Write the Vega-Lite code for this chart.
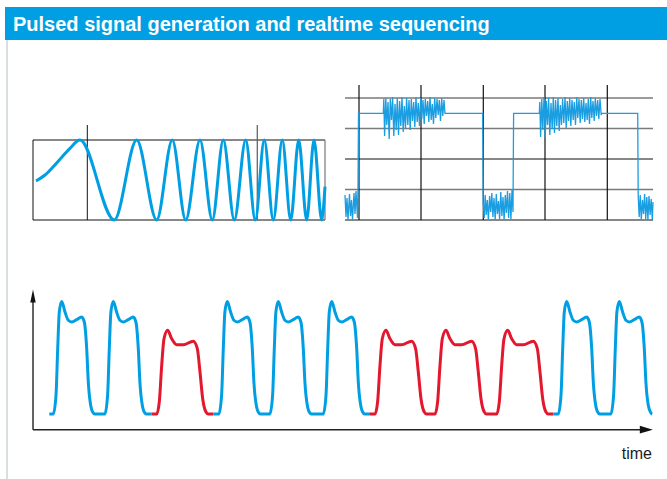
{
  "$schema": "https://vega.github.io/schema/vega-lite/v6.json",
  "padding": {"left": 5, "top": 7, "right": 0, "bottom": 0},
  "background": "white",
  "config": {"view": {"stroke": null}},
  "bounds": "flush",
  "spacing": 0,
  "vconcat": [
    {
      "width": 662,
      "height": 33,
      "view": {"fill": "#009fe3", "stroke": null},
      "data": {"values": [{"label": "Pulsed signal generation and realtime sequencing"}]},
      "mark": {"type": "text", "align": "left", "baseline": "middle", "dx": 8, "dy": 1, "color": "white", "font": "Liberation Sans", "fontSize": 20, "fontWeight": "bold"},
      "encoding": {
        "x": {"datum": 0, "type": "quantitative", "scale": {"domain": [0, 1]}, "axis": null},
        "text": {"field": "label"}
      }
    },
    {
      "hconcat": [
        {
          "width": 3,
          "height": 439,
          "data": {"values": [{}]},
          "mark": {"type": "rule", "color": "#cdd5d5", "strokeWidth": 1.5},
          "encoding": {
            "x": {"datum": 2, "type": "quantitative", "scale": {"domain": [0, 3]}, "axis": null}
          }
        },
        {
          "vconcat": [
            {
              "hconcat": [
                {
                  "width": 292,
                  "height": 180,
                  "layer": [
                    {
                      "data": {"values": [{}]},
                      "mark": {"type": "rule", "color": "#111", "strokeWidth": 1},
                      "encoding": {
                        "x": {"datum": 0, "type": "quantitative", "scale": {"domain": [0, 292], "nice": false, "zero": false}, "axis": null},
                        "x2": {"datum": 292},
                        "y": {"datum": 40, "type": "quantitative", "scale": {"domain": [-40, 140], "nice": false, "zero": false}, "axis": null}
                      }
                    },
                    {
                      "data": {"values": [{}]},
                      "mark": {"type": "rule", "color": "#111", "strokeWidth": 1},
                      "encoding": {
                        "x": {"datum": 0, "type": "quantitative", "scale": {"domain": [0, 292], "nice": false, "zero": false}, "axis": null},
                        "x2": {"datum": 292},
                        "y": {"datum": -40, "type": "quantitative", "scale": {"domain": [-40, 140], "nice": false, "zero": false}, "axis": null}
                      }
                    },
                    {
                      "data": {"values": [{}]},
                      "mark": {"type": "rule", "color": "#111", "strokeWidth": 1},
                      "encoding": {
                        "x": {"datum": 0, "type": "quantitative", "scale": {"domain": [0, 292], "nice": false, "zero": false}, "axis": null},
                        "y": {"datum": -40, "type": "quantitative", "scale": {"domain": [-40, 140], "nice": false, "zero": false}, "axis": null},
                        "y2": {"datum": 40}
                      }
                    },
                    {
                      "data": {"values": [{}]},
                      "mark": {"type": "rule", "color": "#777", "strokeWidth": 1.2},
                      "encoding": {
                        "x": {"datum": 292, "type": "quantitative", "scale": {"domain": [0, 292], "nice": false, "zero": false}, "axis": null},
                        "y": {"datum": -40, "type": "quantitative", "scale": {"domain": [-40, 140], "nice": false, "zero": false}, "axis": null},
                        "y2": {"datum": 40}
                      }
                    },
                    {
                      "data": {"values": [{}]},
                      "mark": {"type": "rule", "color": "#111", "strokeWidth": 1},
                      "encoding": {
                        "x": {"datum": 54.3, "type": "quantitative", "scale": {"domain": [0, 292], "nice": false, "zero": false}, "axis": null},
                        "y": {"datum": -40, "type": "quantitative", "scale": {"domain": [-40, 140], "nice": false, "zero": false}, "axis": null},
                        "y2": {"datum": 55}
                      }
                    },
                    {
                      "data": {"values": [{}]},
                      "mark": {"type": "rule", "color": "#666", "strokeWidth": 1.3},
                      "encoding": {
                        "x": {"datum": 224.3, "type": "quantitative", "scale": {"domain": [0, 292], "nice": false, "zero": false}, "axis": null},
                        "y": {"datum": -40, "type": "quantitative", "scale": {"domain": [-40, 140], "nice": false, "zero": false}, "axis": null},
                        "y2": {"datum": 55}
                      }
                    },
                    {
                      "data": {"values": [
                        {"t": 3, "a": -1}, {"t": 12, "a": 5}, {"t": 20, "a": 13}, {"t": 29, "a": 23}, {"t": 37, "a": 31.7}, {"t": 47, "a": 40},
                        {"t": 81.3, "a": -40}, {"t": 103.7, "a": 40}, {"t": 123.7, "a": -40}, {"t": 139.3, "a": 40},
                        {"t": 152.7, "a": -40}, {"t": 167, "a": 40}, {"t": 179.3, "a": -40}, {"t": 190.3, "a": 40},
                        {"t": 201.3, "a": -40}, {"t": 212.7, "a": 40}, {"t": 222.3, "a": -40}, {"t": 231.3, "a": 40},
                        {"t": 240.3, "a": -40}, {"t": 249.3, "a": 40}, {"t": 257.7, "a": -40}, {"t": 265.7, "a": 40},
                        {"t": 273.7, "a": -40}, {"t": 281, "a": 40}, {"t": 288.7, "a": -40}, {"t": 292, "a": -6.7}
                      ]},
                      "mark": {"type": "line", "interpolate": "monotone", "color": "#009fe3", "strokeWidth": 3},
                      "encoding": {
                        "x": {"field": "t", "type": "quantitative", "scale": {"domain": [0, 292], "nice": false, "zero": false}, "axis": null},
                        "y": {"field": "a", "type": "quantitative", "scale": {"domain": [-40, 140], "nice": false, "zero": false}, "axis": null}
                      }
                    }
                  ]
                },
                {
                  "width": 308,
                  "height": 180,
                  "layer": [
                    {
                      "data": {"values": [{"lvl": 30.5}, {"lvl": 91.5}, {"lvl": 122}]},
                      "mark": {"type": "rule", "color": "#7a7a7a", "strokeWidth": 1.4},
                      "encoding": {
                        "y": {"field": "lvl", "type": "quantitative", "scale": {"domain": [0, 180], "nice": false, "zero": false}, "axis": null}
                      }
                    },
                    {
                      "data": {"values": [{"lvl": 0}, {"lvl": 61}]},
                      "mark": {"type": "rule", "color": "#111", "strokeWidth": 1.2},
                      "encoding": {
                        "y": {"field": "lvl", "type": "quantitative", "scale": {"domain": [0, 180], "nice": false, "zero": false}, "axis": null}
                      }
                    },
                    {
                      "data": {"values": [{"pos": 14}, {"pos": 76}, {"pos": 138.3}, {"pos": 200}, {"pos": 262.3}]},
                      "mark": {"type": "rule", "color": "#111", "strokeWidth": 1.2},
                      "encoding": {
                        "x": {"field": "pos", "type": "quantitative", "scale": {"domain": [0, 308], "nice": false, "zero": false}, "axis": null},
                        "y": {"datum": 0, "type": "quantitative", "scale": {"domain": [0, 180], "nice": false, "zero": false}, "axis": null},
                        "y2": {"datum": 135}
                      }
                    },
                    {
                      "data": {"values": [
                        {"t": 0, "v": 25}, {"t": 1, "v": 3}, {"t": 2, "v": 22}, {"t": 3, "v": 0}, {"t": 4.5, "v": 26}, {"t": 5.5, "v": 4},
                        {"t": 6.5, "v": 20}, {"t": 7.5, "v": 0}, {"t": 9, "v": 27}, {"t": 10, "v": 6}, {"t": 11, "v": 29}, {"t": 12.5, "v": 2},
                        {"t": 13, "v": 30}, {"t": 13.5, "v": 106.7}, {"t": 38.3, "v": 106.7},
                        {"t": 38.8, "v": 121}, {"t": 39.6, "v": 84}, {"t": 40.8, "v": 122}, {"t": 41.8, "v": 95}, {"t": 43, "v": 118},
                        {"t": 44.2, "v": 81}, {"t": 45.3, "v": 121}, {"t": 46.5, "v": 100}, {"t": 47.6, "v": 123}, {"t": 48.8, "v": 84},
                        {"t": 50, "v": 116}, {"t": 51.2, "v": 90}, {"t": 52.3, "v": 122}, {"t": 53.5, "v": 85}, {"t": 54.6, "v": 119},
                        {"t": 55.8, "v": 94}, {"t": 57, "v": 123}, {"t": 58.2, "v": 88}, {"t": 59.3, "v": 114}, {"t": 60.5, "v": 92},
                        {"t": 61.6, "v": 122}, {"t": 62.8, "v": 95}, {"t": 64, "v": 120}, {"t": 65.2, "v": 90}, {"t": 66.3, "v": 121},
                        {"t": 67.5, "v": 99}, {"t": 68.7, "v": 118}, {"t": 69.8, "v": 93}, {"t": 71, "v": 123}, {"t": 72.2, "v": 98},
                        {"t": 73.3, "v": 117}, {"t": 74.5, "v": 94}, {"t": 75.7, "v": 122}, {"t": 76.8, "v": 101}, {"t": 78, "v": 120},
                        {"t": 79.2, "v": 96}, {"t": 80.3, "v": 121}, {"t": 81.5, "v": 104}, {"t": 82.7, "v": 119}, {"t": 83.8, "v": 98},
                        {"t": 85, "v": 123}, {"t": 86.2, "v": 100}, {"t": 87.3, "v": 116}, {"t": 88.5, "v": 96}, {"t": 89.7, "v": 122},
                        {"t": 90.8, "v": 102}, {"t": 92, "v": 121}, {"t": 93.2, "v": 105}, {"t": 94.3, "v": 120}, {"t": 95.5, "v": 99},
                        {"t": 96.7, "v": 122}, {"t": 97.8, "v": 104}, {"t": 99, "v": 120}, {"t": 100, "v": 106.7},
                        {"t": 137.7, "v": 106.7},
                        {"t": 138.2, "v": 18}, {"t": 139.2, "v": 2}, {"t": 140.2, "v": 25}, {"t": 141.2, "v": 5}, {"t": 142.3, "v": 20},
                        {"t": 143.4, "v": 0}, {"t": 144.6, "v": 24}, {"t": 145.7, "v": 8}, {"t": 146.8, "v": 27}, {"t": 147.9, "v": 3},
                        {"t": 149, "v": 22}, {"t": 150.2, "v": 0}, {"t": 151.3, "v": 26}, {"t": 152.4, "v": 6}, {"t": 153.5, "v": 19},
                        {"t": 154.6, "v": 1}, {"t": 155.8, "v": 28}, {"t": 156.9, "v": 4}, {"t": 158, "v": 23}, {"t": 159.1, "v": 0},
                        {"t": 160.3, "v": 25}, {"t": 161.4, "v": 7}, {"t": 162.5, "v": 29}, {"t": 163.6, "v": 2}, {"t": 164.8, "v": 27},
                        {"t": 165.9, "v": 0}, {"t": 167, "v": 30}, {"t": 168, "v": 8}, {"t": 168.6, "v": 106.7},
                        {"t": 194.3, "v": 106.7},
                        {"t": 194.8, "v": 118}, {"t": 195.6, "v": 83}, {"t": 196.8, "v": 121}, {"t": 197.8, "v": 90}, {"t": 199, "v": 123},
                        {"t": 200.2, "v": 82}, {"t": 201.3, "v": 119}, {"t": 202.5, "v": 95}, {"t": 203.6, "v": 122}, {"t": 204.8, "v": 85},
                        {"t": 206, "v": 117}, {"t": 207.2, "v": 91}, {"t": 208.3, "v": 123}, {"t": 209.5, "v": 87}, {"t": 210.6, "v": 120},
                        {"t": 211.8, "v": 94}, {"t": 213, "v": 122}, {"t": 214.2, "v": 89}, {"t": 215.3, "v": 115}, {"t": 216.5, "v": 95},
                        {"t": 217.6, "v": 121}, {"t": 218.8, "v": 97}, {"t": 220, "v": 123}, {"t": 221.2, "v": 92}, {"t": 222.3, "v": 119},
                        {"t": 223.5, "v": 99}, {"t": 224.7, "v": 122}, {"t": 225.8, "v": 94}, {"t": 227, "v": 120}, {"t": 228.2, "v": 100},
                        {"t": 229.3, "v": 118}, {"t": 230.5, "v": 95}, {"t": 231.7, "v": 123}, {"t": 232.8, "v": 102}, {"t": 234, "v": 121},
                        {"t": 235.2, "v": 97}, {"t": 236.3, "v": 120}, {"t": 237.5, "v": 101}, {"t": 238.7, "v": 122}, {"t": 239.8, "v": 98},
                        {"t": 241, "v": 117}, {"t": 242.2, "v": 100}, {"t": 243.3, "v": 121}, {"t": 244.5, "v": 96}, {"t": 245.7, "v": 123},
                        {"t": 246.8, "v": 102}, {"t": 248, "v": 119}, {"t": 249.2, "v": 99}, {"t": 250.3, "v": 122}, {"t": 251.5, "v": 104},
                        {"t": 252.7, "v": 120}, {"t": 253.8, "v": 101}, {"t": 255, "v": 121}, {"t": 256.2, "v": 105}, {"t": 256.7, "v": 106.7},
                        {"t": 292.7, "v": 106.7},
                        {"t": 293.2, "v": 24}, {"t": 294.2, "v": 3}, {"t": 295.2, "v": 25}, {"t": 296.3, "v": 0}, {"t": 297.4, "v": 20},
                        {"t": 298.5, "v": 6}, {"t": 299.6, "v": 26}, {"t": 300.7, "v": 1}, {"t": 301.8, "v": 23}, {"t": 302.9, "v": 0},
                        {"t": 304, "v": 24}, {"t": 305.1, "v": 5}, {"t": 306.2, "v": 21}, {"t": 307.3, "v": 0}, {"t": 308, "v": 18}
                      ]},
                      "mark": {"type": "line", "color": "#1a9de1", "strokeWidth": 1.3},
                      "encoding": {
                        "x": {"field": "t", "type": "quantitative", "scale": {"domain": [0, 308], "nice": false, "zero": false}, "axis": null},
                        "y": {"field": "v", "type": "quantitative", "scale": {"domain": [0, 180], "nice": false, "zero": false}, "axis": null}
                      }
                    }
                  ]
                }
              ],
              "spacing": 20,
              "bounds": "flush"
            },
            {
              "width": 634,
              "height": 255,
              "layer": [
                {
                  "data": {"values": [{}]},
                  "mark": {"type": "rule", "color": "#222", "strokeWidth": 1.4},
                  "encoding": {
                    "x": {"datum": 0, "type": "quantitative", "scale": {"domain": [0, 634], "nice": false, "zero": false}, "axis": null},
                    "y": {"datum": -15.7, "type": "quantitative", "scale": {"domain": [-67, 188], "nice": false, "zero": false}, "axis": null},
                    "y2": {"datum": 112}
                  }
                },
                {
                  "data": {"values": [{}]},
                  "mark": {"type": "rule", "color": "#222", "strokeWidth": 1.4},
                  "encoding": {
                    "x": {"datum": 0, "type": "quantitative", "scale": {"domain": [0, 634], "nice": false, "zero": false}, "axis": null},
                    "x2": {"datum": 608},
                    "y": {"datum": -15.7, "type": "quantitative", "scale": {"domain": [-67, 188], "nice": false, "zero": false}, "axis": null}
                  }
                },
                {
                  "data": {"values": [{}]},
                  "mark": {"type": "point", "shape": "M0,-1L0.42,1L-0.42,1Z", "filled": true, "color": "#111", "opacity": 1, "size": 169},
                  "encoding": {
                    "x": {"datum": 0, "type": "quantitative", "scale": {"domain": [0, 634], "nice": false, "zero": false}, "axis": null},
                    "y": {"datum": 118, "type": "quantitative", "scale": {"domain": [-67, 188], "nice": false, "zero": false}, "axis": null}
                  }
                },
                {
                  "data": {"values": [{}]},
                  "mark": {"type": "point", "shape": "M1,0L-1,-0.6L-1,0.6Z", "filled": true, "color": "#111", "opacity": 1, "size": 169},
                  "encoding": {
                    "x": {"datum": 613.3, "type": "quantitative", "scale": {"domain": [0, 634], "nice": false, "zero": false}, "axis": null},
                    "y": {"datum": -15.7, "type": "quantitative", "scale": {"domain": [-67, 188], "nice": false, "zero": false}, "axis": null}
                  }
                },
                {
                  "data": {"values": [{"label": "time"}]},
                  "mark": {"type": "text", "align": "right", "baseline": "alphabetic", "color": "#1a1a1a", "font": "Liberation Sans", "fontSize": 16},
                  "encoding": {
                    "x": {"datum": 619, "type": "quantitative", "scale": {"domain": [0, 634], "nice": false, "zero": false}, "axis": null},
                    "y": {"datum": -44.7, "type": "quantitative", "scale": {"domain": [-67, 188], "nice": false, "zero": false}, "axis": null},
                    "text": {"field": "label"}
                  }
                },
                {
                  "data": {"values": [
                    {"seg": 1, "col": "blue", "t": 16.3, "v": 0}, {"seg": 1, "col": "blue", "t": 20.3, "v": 0}, {"seg": 1, "col": "blue", "t": 23, "v": 18.7},
                    {"seg": 1, "col": "blue", "t": 24.7, "v": 65.3}, {"seg": 1, "col": "blue", "t": 26.3, "v": 102}, {"seg": 1, "col": "blue", "t": 28.7, "v": 112.5},
                    {"seg": 1, "col": "blue", "t": 32, "v": 102}, {"seg": 1, "col": "blue", "t": 35.3, "v": 93.7}, {"seg": 1, "col": "blue", "t": 38.7, "v": 92},
                    {"seg": 1, "col": "blue", "t": 43.7, "v": 94.3}, {"seg": 1, "col": "blue", "t": 48.7, "v": 97}, {"seg": 1, "col": "blue", "t": 51.3, "v": 92},
                    {"seg": 1, "col": "blue", "t": 53.7, "v": 65.3}, {"seg": 1, "col": "blue", "t": 55.3, "v": 32}, {"seg": 1, "col": "blue", "t": 57.7, "v": 8.7},
                    {"seg": 1, "col": "blue", "t": 60.3, "v": 1}, {"seg": 1, "col": "blue", "t": 62, "v": 0},
                    {"seg": 1, "col": "blue", "t": 67.9, "v": 0}, {"seg": 1, "col": "blue", "t": 71.9, "v": 0}, {"seg": 1, "col": "blue", "t": 74.6, "v": 18.7},
                    {"seg": 1, "col": "blue", "t": 76.3, "v": 65.3}, {"seg": 1, "col": "blue", "t": 77.9, "v": 102}, {"seg": 1, "col": "blue", "t": 80.3, "v": 112.5},
                    {"seg": 1, "col": "blue", "t": 83.6, "v": 102}, {"seg": 1, "col": "blue", "t": 86.9, "v": 93.7}, {"seg": 1, "col": "blue", "t": 90.3, "v": 92},
                    {"seg": 1, "col": "blue", "t": 95.3, "v": 94.3}, {"seg": 1, "col": "blue", "t": 100.3, "v": 97}, {"seg": 1, "col": "blue", "t": 102.9, "v": 92},
                    {"seg": 1, "col": "blue", "t": 105.3, "v": 65.3}, {"seg": 1, "col": "blue", "t": 106.9, "v": 32}, {"seg": 1, "col": "blue", "t": 109.3, "v": 8.7},
                    {"seg": 1, "col": "blue", "t": 111.9, "v": 1}, {"seg": 1, "col": "blue", "t": 113.6, "v": 0}, {"seg": 1, "col": "blue", "t": 118.7, "v": 0},

                    {"seg": 2, "col": "red", "t": 118.7, "v": 0}, {"seg": 2, "col": "red", "t": 123.7, "v": 0}, {"seg": 2, "col": "red", "t": 126.3, "v": 12},
                    {"seg": 2, "col": "red", "t": 128.7, "v": 48.7}, {"seg": 2, "col": "red", "t": 131, "v": 75.3}, {"seg": 2, "col": "red", "t": 134.7, "v": 83.7},
                    {"seg": 2, "col": "red", "t": 138.7, "v": 75.3}, {"seg": 2, "col": "red", "t": 143.7, "v": 69.3}, {"seg": 2, "col": "red", "t": 150.3, "v": 69.3},
                    {"seg": 2, "col": "red", "t": 160.3, "v": 72.7}, {"seg": 2, "col": "red", "t": 164.3, "v": 65.3}, {"seg": 2, "col": "red", "t": 167, "v": 42},
                    {"seg": 2, "col": "red", "t": 169.7, "v": 15.3}, {"seg": 2, "col": "red", "t": 173, "v": 2}, {"seg": 2, "col": "red", "t": 175.3, "v": 0},
                    {"seg": 2, "col": "red", "t": 180.3, "v": 0},

                    {"seg": 3, "col": "blue", "t": 180.3, "v": 0}, {"seg": 3, "col": "blue", "t": 181.9, "v": 0}, {"seg": 3, "col": "blue", "t": 185.9, "v": 0},
                    {"seg": 3, "col": "blue", "t": 188.6, "v": 18.7}, {"seg": 3, "col": "blue", "t": 190.3, "v": 65.3}, {"seg": 3, "col": "blue", "t": 191.9, "v": 102},
                    {"seg": 3, "col": "blue", "t": 194.3, "v": 112.5}, {"seg": 3, "col": "blue", "t": 197.6, "v": 102}, {"seg": 3, "col": "blue", "t": 200.9, "v": 93.7},
                    {"seg": 3, "col": "blue", "t": 204.3, "v": 92}, {"seg": 3, "col": "blue", "t": 209.3, "v": 94.3}, {"seg": 3, "col": "blue", "t": 214.3, "v": 97},
                    {"seg": 3, "col": "blue", "t": 216.9, "v": 92}, {"seg": 3, "col": "blue", "t": 219.3, "v": 65.3}, {"seg": 3, "col": "blue", "t": 220.9, "v": 32},
                    {"seg": 3, "col": "blue", "t": 223.3, "v": 8.7}, {"seg": 3, "col": "blue", "t": 225.9, "v": 1}, {"seg": 3, "col": "blue", "t": 227.6, "v": 0},
                    {"seg": 3, "col": "blue", "t": 232.9, "v": 0}, {"seg": 3, "col": "blue", "t": 236.9, "v": 0}, {"seg": 3, "col": "blue", "t": 239.6, "v": 18.7},
                    {"seg": 3, "col": "blue", "t": 241.3, "v": 65.3}, {"seg": 3, "col": "blue", "t": 242.9, "v": 102}, {"seg": 3, "col": "blue", "t": 245.3, "v": 112.5},
                    {"seg": 3, "col": "blue", "t": 248.6, "v": 102}, {"seg": 3, "col": "blue", "t": 251.9, "v": 93.7}, {"seg": 3, "col": "blue", "t": 255.3, "v": 92},
                    {"seg": 3, "col": "blue", "t": 260.3, "v": 94.3}, {"seg": 3, "col": "blue", "t": 265.3, "v": 97}, {"seg": 3, "col": "blue", "t": 267.9, "v": 92},
                    {"seg": 3, "col": "blue", "t": 270.3, "v": 65.3}, {"seg": 3, "col": "blue", "t": 271.9, "v": 32}, {"seg": 3, "col": "blue", "t": 274.3, "v": 8.7},
                    {"seg": 3, "col": "blue", "t": 276.9, "v": 1}, {"seg": 3, "col": "blue", "t": 278.6, "v": 0},
                    {"seg": 3, "col": "blue", "t": 286.3, "v": 0}, {"seg": 3, "col": "blue", "t": 290.3, "v": 0}, {"seg": 3, "col": "blue", "t": 293, "v": 18.7},
                    {"seg": 3, "col": "blue", "t": 294.7, "v": 65.3}, {"seg": 3, "col": "blue", "t": 296.3, "v": 102}, {"seg": 3, "col": "blue", "t": 298.7, "v": 112.5},
                    {"seg": 3, "col": "blue", "t": 302, "v": 102}, {"seg": 3, "col": "blue", "t": 305.3, "v": 93.7}, {"seg": 3, "col": "blue", "t": 308.7, "v": 92},
                    {"seg": 3, "col": "blue", "t": 313.7, "v": 94.3}, {"seg": 3, "col": "blue", "t": 318.7, "v": 97}, {"seg": 3, "col": "blue", "t": 321.3, "v": 92},
                    {"seg": 3, "col": "blue", "t": 323.7, "v": 65.3}, {"seg": 3, "col": "blue", "t": 325.3, "v": 32}, {"seg": 3, "col": "blue", "t": 327.7, "v": 8.7},
                    {"seg": 3, "col": "blue", "t": 330.3, "v": 1}, {"seg": 3, "col": "blue", "t": 332, "v": 0}, {"seg": 3, "col": "blue", "t": 337, "v": 0},

                    {"seg": 4, "col": "red", "t": 337, "v": 0}, {"seg": 4, "col": "red", "t": 342, "v": 0}, {"seg": 4, "col": "red", "t": 344.6, "v": 12},
                    {"seg": 4, "col": "red", "t": 347, "v": 48.7}, {"seg": 4, "col": "red", "t": 349.3, "v": 75.3}, {"seg": 4, "col": "red", "t": 353, "v": 83.7},
                    {"seg": 4, "col": "red", "t": 357, "v": 75.3}, {"seg": 4, "col": "red", "t": 362, "v": 69.3}, {"seg": 4, "col": "red", "t": 368.6, "v": 69.3},
                    {"seg": 4, "col": "red", "t": 378.6, "v": 72.7}, {"seg": 4, "col": "red", "t": 382.6, "v": 65.3}, {"seg": 4, "col": "red", "t": 385.3, "v": 42},
                    {"seg": 4, "col": "red", "t": 388, "v": 15.3}, {"seg": 4, "col": "red", "t": 391.3, "v": 2}, {"seg": 4, "col": "red", "t": 393.6, "v": 0},
                    {"seg": 4, "col": "red", "t": 402, "v": 0}, {"seg": 4, "col": "red", "t": 404.6, "v": 12}, {"seg": 4, "col": "red", "t": 407, "v": 48.7},
                    {"seg": 4, "col": "red", "t": 409.3, "v": 75.3}, {"seg": 4, "col": "red", "t": 413, "v": 83.7}, {"seg": 4, "col": "red", "t": 417, "v": 75.3},
                    {"seg": 4, "col": "red", "t": 422, "v": 69.3}, {"seg": 4, "col": "red", "t": 428.6, "v": 69.3}, {"seg": 4, "col": "red", "t": 438.6, "v": 72.7},
                    {"seg": 4, "col": "red", "t": 442.6, "v": 65.3}, {"seg": 4, "col": "red", "t": 445.3, "v": 42}, {"seg": 4, "col": "red", "t": 448, "v": 15.3},
                    {"seg": 4, "col": "red", "t": 451.3, "v": 2}, {"seg": 4, "col": "red", "t": 453.6, "v": 0},
                    {"seg": 4, "col": "red", "t": 463.7, "v": 0}, {"seg": 4, "col": "red", "t": 466.3, "v": 12}, {"seg": 4, "col": "red", "t": 468.7, "v": 48.7},
                    {"seg": 4, "col": "red", "t": 471, "v": 75.3}, {"seg": 4, "col": "red", "t": 474.7, "v": 83.7}, {"seg": 4, "col": "red", "t": 478.7, "v": 75.3},
                    {"seg": 4, "col": "red", "t": 483.7, "v": 69.3}, {"seg": 4, "col": "red", "t": 490.3, "v": 69.3}, {"seg": 4, "col": "red", "t": 500.3, "v": 72.7},
                    {"seg": 4, "col": "red", "t": 504.3, "v": 65.3}, {"seg": 4, "col": "red", "t": 507, "v": 42}, {"seg": 4, "col": "red", "t": 509.7, "v": 15.3},
                    {"seg": 4, "col": "red", "t": 513, "v": 2}, {"seg": 4, "col": "red", "t": 515.3, "v": 0}, {"seg": 4, "col": "red", "t": 520.3, "v": 0},

                    {"seg": 5, "col": "blue", "t": 520.3, "v": 0}, {"seg": 5, "col": "blue", "t": 521.3, "v": 0}, {"seg": 5, "col": "blue", "t": 525.3, "v": 0},
                    {"seg": 5, "col": "blue", "t": 528, "v": 18.7}, {"seg": 5, "col": "blue", "t": 529.7, "v": 65.3}, {"seg": 5, "col": "blue", "t": 531.3, "v": 102},
                    {"seg": 5, "col": "blue", "t": 533.7, "v": 112.5}, {"seg": 5, "col": "blue", "t": 537, "v": 102}, {"seg": 5, "col": "blue", "t": 540.3, "v": 93.7},
                    {"seg": 5, "col": "blue", "t": 543.7, "v": 92}, {"seg": 5, "col": "blue", "t": 548.7, "v": 94.3}, {"seg": 5, "col": "blue", "t": 553.7, "v": 97},
                    {"seg": 5, "col": "blue", "t": 556.3, "v": 92}, {"seg": 5, "col": "blue", "t": 558.7, "v": 65.3}, {"seg": 5, "col": "blue", "t": 560.3, "v": 32},
                    {"seg": 5, "col": "blue", "t": 562.7, "v": 8.7}, {"seg": 5, "col": "blue", "t": 565.3, "v": 1}, {"seg": 5, "col": "blue", "t": 567, "v": 0},
                    {"seg": 5, "col": "blue", "t": 573.9, "v": 0}, {"seg": 5, "col": "blue", "t": 577.9, "v": 0}, {"seg": 5, "col": "blue", "t": 580.6, "v": 18.7},
                    {"seg": 5, "col": "blue", "t": 582.3, "v": 65.3}, {"seg": 5, "col": "blue", "t": 583.9, "v": 102}, {"seg": 5, "col": "blue", "t": 586.3, "v": 112.5},
                    {"seg": 5, "col": "blue", "t": 589.6, "v": 102}, {"seg": 5, "col": "blue", "t": 592.9, "v": 93.7}, {"seg": 5, "col": "blue", "t": 596.3, "v": 92},
                    {"seg": 5, "col": "blue", "t": 601.3, "v": 94.3}, {"seg": 5, "col": "blue", "t": 606.3, "v": 97}, {"seg": 5, "col": "blue", "t": 608.9, "v": 92},
                    {"seg": 5, "col": "blue", "t": 611.3, "v": 65.3}, {"seg": 5, "col": "blue", "t": 612.9, "v": 32}, {"seg": 5, "col": "blue", "t": 615.3, "v": 8.7},
                    {"seg": 5, "col": "blue", "t": 617.9, "v": 1}, {"seg": 5, "col": "blue", "t": 619.3, "v": 0}
                  ]},
                  "mark": {"type": "line", "interpolate": "monotone", "strokeWidth": 3},
                  "encoding": {
                    "x": {"field": "t", "type": "quantitative", "scale": {"domain": [0, 634], "nice": false, "zero": false}, "axis": null},
                    "y": {"field": "v", "type": "quantitative", "scale": {"domain": [-67, 188], "nice": false, "zero": false}, "axis": null},
                    "detail": {"field": "seg", "type": "nominal"},
                    "color": {"field": "col", "type": "nominal", "scale": {"domain": ["blue", "red"], "range": ["#009fe3", "#e3172d"]}, "legend": null}
                  }
                }
              ]
            }
          ],
          "spacing": 0,
          "bounds": "full"
        }
      ],
      "spacing": 25,
      "bounds": "flush"
    }
  ]
}
